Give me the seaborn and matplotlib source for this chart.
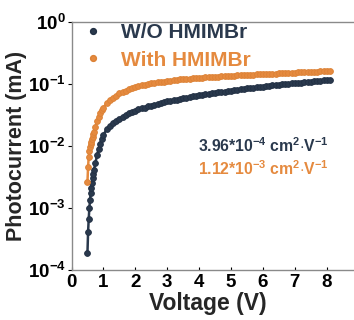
import numpy as np
import pandas as pd
import matplotlib
matplotlib.use("Agg")
import matplotlib.pyplot as plt
from matplotlib.lines import Line2D
import seaborn as sns

# Bias voltage (V), shared by both devices
voltage = [0.50, 0.52, 0.54, 0.56, 0.58, 0.60, 0.62, 0.64, 0.66, 0.68, 0.70,
           0.75, 0.80, 0.85, 0.90, 0.95,
           1.0, 1.1, 1.2, 1.3, 1.4, 1.5, 1.6, 1.7, 1.8, 1.9,
           2.0, 2.1, 2.2, 2.3, 2.4, 2.5, 2.6, 2.7, 2.8, 2.9,
           3.0, 3.1, 3.2, 3.3, 3.4, 3.5, 3.6, 3.7, 3.8, 3.9,
           4.0, 4.1, 4.2, 4.3, 4.4, 4.5, 4.6, 4.7, 4.8, 4.9,
           5.0, 5.1, 5.2, 5.3, 5.4, 5.5, 5.6, 5.7, 5.8, 5.9,
           6.0, 6.1, 6.2, 6.3, 6.4, 6.5, 6.6, 6.7, 6.8, 6.9,
           7.0, 7.1, 7.2, 7.3, 7.4, 7.5, 7.6, 7.7, 7.8, 7.9,
           8.0, 8.1]

# log10 of photocurrent (mA), device without HMIMBr
log_i_without = [-3.72, -3.38, -3.17, -3.00, -2.87, -2.76, -2.67, -2.59, -2.52, -2.45, -2.39,
                 -2.27, -2.15, -2.05, -1.96, -1.88,
                 -1.82, -1.73, -1.67, -1.63, -1.59, -1.56, -1.53, -1.50, -1.47, -1.45,
                 -1.43, -1.41, -1.39, -1.38, -1.36, -1.35, -1.33, -1.32, -1.31, -1.29,
                 -1.28, -1.27, -1.26, -1.25, -1.24, -1.23, -1.22, -1.21, -1.20, -1.19,
                 -1.18, -1.17, -1.165, -1.16, -1.15, -1.14, -1.135, -1.13, -1.12, -1.11,
                 -1.105, -1.10, -1.09, -1.085, -1.08, -1.07, -1.065, -1.06, -1.05, -1.045,
                 -1.04, -1.035, -1.03, -1.02, -1.015, -1.01, -1.005, -1.00, -0.995, -0.99,
                 -0.985, -0.98, -0.975, -0.97, -0.965, -0.96, -0.955, -0.95, -0.945, -0.94,
                 -0.935, -0.93]

# log10 of photocurrent (mA), device with HMIMBr
log_i_with = [-2.58, -2.33, -2.17, -2.08, -2.02, -1.97, -1.93, -1.89, -1.85, -1.81, -1.77,
              -1.69, -1.60, -1.53, -1.47, -1.42,
              -1.38, -1.31, -1.26, -1.22, -1.19, -1.15, -1.13, -1.11, -1.08, -1.06,
              -1.04, -1.03, -1.02, -1.01, -1.00, -0.99, -0.98, -0.97, -0.965, -0.96,
              -0.95, -0.944, -0.938, -0.932, -0.926, -0.92, -0.916, -0.912, -0.908, -0.904,
              -0.90, -0.896, -0.893, -0.89, -0.886, -0.883, -0.879, -0.876, -0.872, -0.869,
              -0.865, -0.862, -0.86, -0.857, -0.855, -0.852, -0.85, -0.847, -0.845, -0.842,
              -0.84, -0.837, -0.835, -0.832, -0.83, -0.827, -0.825, -0.822, -0.82, -0.817,
              -0.815, -0.813, -0.81, -0.808, -0.806, -0.804, -0.801, -0.799, -0.797, -0.795,
              -0.792, -0.79]

labels = ["W/O HMIMBr", "With HMIMBr"]
mobility_text = [r"3.96*10$^{-4}$ cm$^{2}$$\cdot$V$^{-1}$",
                 r"1.12*10$^{-3}$ cm$^{2}$$\cdot$V$^{-1}$"]

navy = "#2a394d"
navy_edge = "#223044"
orange = "#e58a3f"
orange_edge = "#dc8236"

sns.set_style("ticks")
plt.rcParams["font.family"] = ["Liberation Sans", "DejaVu Sans"]
plt.rcParams["font.weight"] = "bold"
plt.rcParams["mathtext.fontset"] = "custom"
plt.rcParams["mathtext.rm"] = "Liberation Sans:bold"
plt.rcParams["mathtext.bf"] = "Liberation Sans:bold"
plt.rcParams["mathtext.it"] = "Liberation Sans:bold"
plt.rcParams["mathtext.default"] = "rm"

df = pd.DataFrame({
    "Voltage": voltage * 2,
    "Current": list(10 ** np.array(log_i_without)) + list(10 ** np.array(log_i_with)),
    "Sample": [labels[0]] * len(voltage) + [labels[1]] * len(voltage),
})

fig = plt.figure(figsize=(3.54, 3.20), dpi=100)
ax = fig.add_axes([0.202, 0.156, 0.811, 0.775])

for name, col, edge in [(labels[0], navy, navy_edge), (labels[1], orange, orange_edge)]:
    sub = df[df["Sample"] == name]
    sns.lineplot(data=sub, x="Voltage", y="Current", ax=ax, color=col,
                 marker="o", markersize=4.2, markeredgecolor=edge,
                 markeredgewidth=0.6, lw=1.8, sort=False, legend=False)

ax.set_yscale("log")
ax.set_xlim(0, 9)
ax.set_ylim(1e-4, 1)
ax.set_xticks(range(0, 9))
ax.set_yticks([1e-4, 1e-3, 1e-2, 1e-1, 1])
ax.yaxis.set_minor_locator(matplotlib.ticker.NullLocator())

ax.set_xlabel("Voltage (V)", fontsize=16.5, fontweight="bold")
ax.xaxis.set_label_coords(0.4755, -0.088)
ax.set_ylabel("Photocurrent (mA)", fontsize=15.5, fontweight="bold", labelpad=1)
ax.tick_params(axis="both", labelsize=13.5, width=0.8, colors="#000000")
ax.tick_params(axis="x", direction="in", length=2, pad=3)
ax.tick_params(axis="y", direction="out", length=3, pad=1)
for lab in ax.get_xticklabels() + ax.get_yticklabels():
    lab.set_fontweight("bold")

for side in ["left", "bottom", "top", "right"]:
    ax.spines[side].set_color("#8a8a8a")
    ax.spines[side].set_linewidth(1.0)

handles = [Line2D([], [], ls="none", marker="o", ms=4.2, color=navy, mec=navy_edge),
           Line2D([], [], ls="none", marker="o", ms=4.2, color=orange, mec=orange_edge)]
leg = ax.legend(handles, labels, loc="upper left", bbox_to_anchor=(0.030, 1.005),
                frameon=False, fontsize=15, handlelength=1.0, handletextpad=0.85,
                labelspacing=0.42, borderpad=0.1, borderaxespad=0)
for txt, col in zip(leg.get_texts(), [navy, orange]):
    txt.set_color(col)
    txt.set_fontweight("bold")

ax.text(0.44, 0.50, mobility_text[0], transform=ax.transAxes, color=navy,
        fontsize=11.3, fontweight="bold", va="center", ha="left")
ax.text(0.44, 0.407, mobility_text[1], transform=ax.transAxes, color=orange,
        fontsize=11.3, fontweight="bold", va="center", ha="left")

fig.savefig("out.png", dpi=100)
